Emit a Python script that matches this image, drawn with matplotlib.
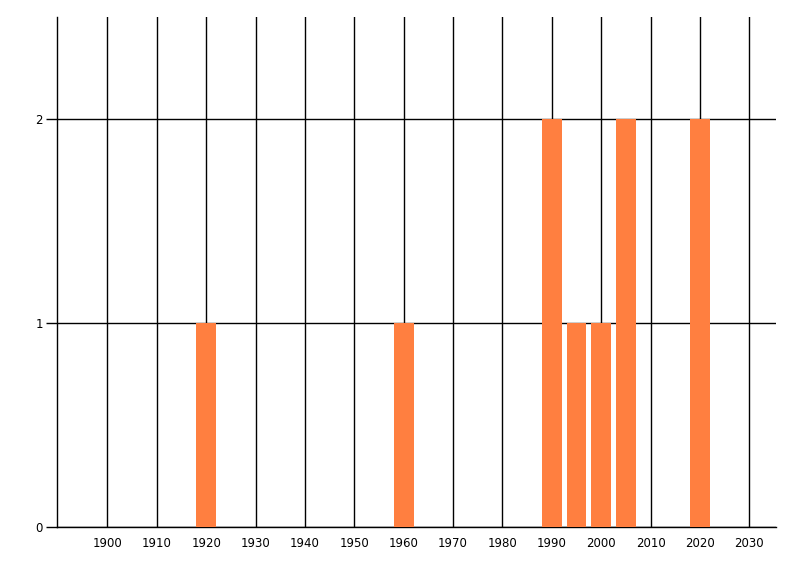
import matplotlib
matplotlib.use("Agg")
import matplotlib.pyplot as plt

years = [1920, 1960, 1990, 1995, 2000, 2005, 2020]
counts = [1, 1, 2, 1, 1, 2, 2]
xticks = list(range(1900, 2031, 10))
yticks = [0, 1, 2]

fig = plt.figure(figsize=(8, 5.76), dpi=100)
ax = fig.add_axes([57/800, 49/576, (776-57)/800, (527-17)/576])
ax.set_axisbelow(True)
ax.grid(True, color="black", linewidth=1)
ax.bar(years, counts, width=4, color="#FF7F40", zorder=3)
ax.set_xlim(1889.8, 2035.4)
ax.set_ylim(0, 2.5)
ax.set_xticks(xticks)
ax.set_yticks(yticks)
ax.set_xticklabels([str(x) for x in xticks])
ax.set_yticklabels([str(y) for y in yticks])
for s in ["top", "right"]:
    ax.spines[s].set_visible(False)
for s in ["left", "bottom"]:
    ax.spines[s].set_color("black")
    ax.spines[s].set_linewidth(1)
ax.tick_params(axis="x", length=0, pad=7, labelsize=8.5)
ax.tick_params(axis="y", length=8, width=1, pad=2, labelsize=8.5)
fig.savefig("out.png", dpi=100, facecolor="white")
